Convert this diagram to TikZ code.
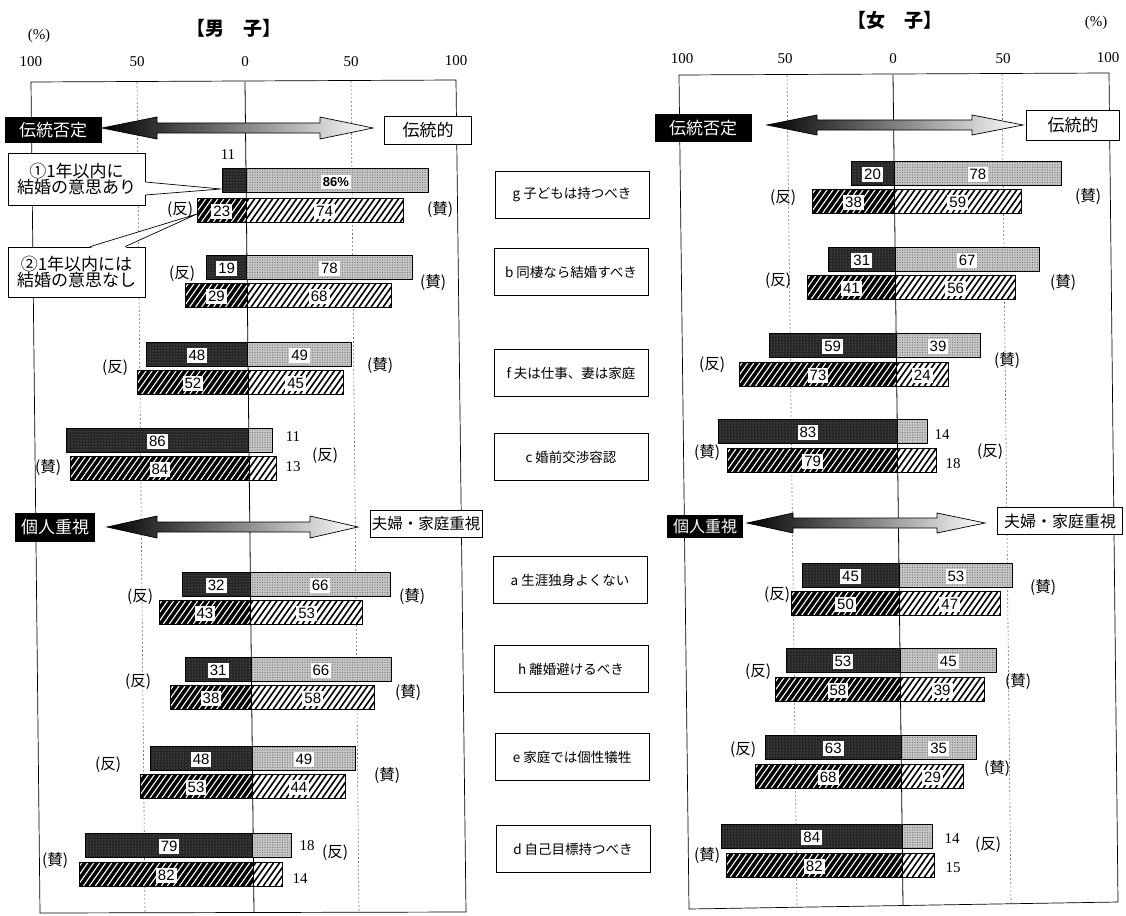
\documentclass[tikz,border=0pt]{standalone}
\usepackage{fontspec}
\setmainfont{Liberation Serif}
\newfontfamily\cjk{Noto Sans CJK JP}
\newfontfamily\numf{Liberation Sans}
\usetikzlibrary{patterns.meta}
\pgfdeclarelayer{front}
\pgfsetlayers{main,front}
\newcommand\myfs[1]{\fontsize{#1}{#1}\selectfont}
\newcommand\hatch[6]{%
  \begin{scope}
  \clip (#1,#2) rectangle (#3,#4);
  \foreach \k in {0,6,...,216}{\draw[#5,line width=#6] ({#1+\k-20},{#4}) -- ++(17,-24);}
  \end{scope}}
\newcommand\brow[8]{%
  \pgfmathsetmacro\xl{#1-#4*#2}%
  \pgfmathsetmacro\xr{#1+#5*#2}%
  \pgfmathsetmacro\yb{#3+24}%
  \pgfmathsetmacro\ym{#3+13.5}%
  \pgfmathsetmacro\xlm{(\xl+#1)/2}%
  \pgfmathsetmacro\xrm{(\xr+#1)/2}%
  \if#6B
    \fill[black] (\xl,#3) rectangle (#1,\yb);
    \hatch{\xl}{#3}{#1}{\yb}{white}{1.1pt}
    \fill[white] (#1,#3) rectangle (\xr,\yb);
    \hatch{#1}{#3}{\xr}{\yb}{black}{1.6pt}
    \draw[line width=0.8pt] (\xl,#3) rectangle (#1,\yb) (#1,#3) rectangle (\xr,\yb);
  \else
    \path[darkA] (\xl,#3) rectangle (#1,\yb);
    \path[lightA] (#1,#3) rectangle (\xr,\yb);
  \fi
  \begin{pgfonlayer}{front}
  \ifnum#7=1 \node[vl] (vl#3) at (\xlm,\ym) {#4};\fi
  \ifnum#8=1 \node[vl] (vr#3) at (\xrm,\ym) {#5};\fi
  \end{pgfonlayer}
}
\newcommand\mrow[6]{\pgfmathsetmacro\cxx{245+0.0105*(#1-82)}\brow{\cxx}{2.12}{#1}{#2}{#3}{#4}{#5}{#6}}
\newcommand\frow[6]{\pgfmathsetmacro\cxx{893+0.0121*(#1-75)}\brow{\cxx}{2.15}{#1}{#2}{#3}{#4}{#5}{#6}}
\newcommand\fatarrow[6]{%
  \shade[left color=black,right color=white,draw=black,line width=0.7pt]
  ({#2},{#1}) -- ({#3},{#1-#6}) -- ({#3},{#1-5}) -- ({#4},{#1-5}) -- ({#4},{#1-#6}) --
  ({#5},{#1}) -- ({#4},{#1+#6}) -- ({#4},{#1+5}) -- ({#3},{#1+5}) -- ({#3},{#1+#6}) -- cycle;
}
\begin{document}
\begin{tikzpicture}[x=1pt,y=-1pt,
  darkA/.style={draw=black,line width=0.8pt,preaction={fill=black!85},pattern={Dots[distance=3pt,radius=0.5pt]},pattern color=black!45},
  lightA/.style={draw=black,line width=0.8pt,preaction={fill=black!22},pattern={Dots[distance=2.5pt,radius=0.6pt]},pattern color=black!55},
  vl/.style={fill=white,inner xsep=2pt,inner ysep=2.5pt,font=\numf\myfs{15}},
  onum/.style={inner sep=0pt,font=\myfs{15}},
  ax/.style={inner sep=0pt,font=\myfs{15}},
  pn/.style={inner sep=0pt,font=\cjk\myfs{15.5}},
  cbox/.style={draw=black,line width=0.6pt,minimum width=154pt,minimum height=47pt,inner sep=0pt,font=\cjk\myfs{13.5}},
  blk/.style={fill=black,text=white,inner sep=0pt,font=\cjk\myfs{17}},
  wht/.style={draw=black,fill=white,line width=0.7pt,inner sep=0pt,font=\cjk\myfs{17}},
  grid/.style={black!55,line width=0.6pt,dash pattern=on 2pt off 2pt},
  frame/.style={black,line width=0.7pt}
]
\useasboundingbox (0,0) rectangle (1126,915);
\fill[white] (0,0) rectangle (1126,915);

% ===== titles and axes =====
\node[inner sep=0pt,font=\cjk\bfseries\myfs{19}] (tm) at (234,28) {【男　子】};
\node[inner sep=0pt,font=\cjk\bfseries\myfs{19}] (tf) at (895,20) {【女　子】};
\node[ax] (pm) at (39,36) {(\%)};
\node[ax] (pf) at (1096,23) {(\%)};
\node[ax] (m1) at (31,62) {100};
\node[ax] (m2) at (137,62) {50};
\node[ax] (m3) at (245,62) {0};
\node[ax] (m4) at (351,62) {50};
\node[ax] (m5) at (456,61) {100};
\node[ax] (f1) at (682,59) {100};
\node[ax] (f2) at (785,59) {50};
\node[ax] (f3) at (893,59) {0};
\node[ax] (f4) at (1003,59) {50};
\node[ax] (f5) at (1108,58) {100};

% frames and grid
\draw[frame] (31,82) -- (456,80) -- (466,912) -- (40,913) -- cycle;
\draw[frame] (679,75) -- (1109,73) -- (1118,902) -- (689,909) -- cycle;
\draw[grid] (137,82) -- (145,912);
\draw[grid] (351,81) -- (359,912);
\draw[grid] (787,75) -- (797,907);
\draw[grid] (1002,74) -- (1011,904);
\draw[line width=0.8pt] (245,82) -- (254,912);
\draw[line width=0.8pt] (893,75) -- (903,905);

% ===== big arrows =====
\fatarrow{128}{102}{157}{320}{373}{11}
\fatarrow{527}{107}{157}{310}{358}{11}
\fatarrow{125}{767}{817}{972}{1023}{10}
\fatarrow{523}{747}{793}{937}{985}{10}
\node[blk,minimum width=97pt,minimum height=25pt] (m-neg) at (53,130) {伝統否定};
\node[wht,minimum width=87pt,minimum height=28pt] (m-tra) at (428,130) {伝統的};
\node[blk,minimum width=80pt,minimum height=29pt] (m-ind) at (55,527) {個人重視};
\node[wht,minimum width=112pt,minimum height=27pt,font=\cjk\myfs{15.5}] (m-fam) at (426,524) {夫婦・家庭重視};
\node[blk,minimum width=97pt,minimum height=28pt] (f-neg) at (703,128) {伝統否定};
\node[wht,minimum width=93pt,minimum height=30pt] (f-tra) at (1073,125) {伝統的};
\node[blk,minimum width=76pt,minimum height=23pt,font=\cjk\myfs{16}] (f-ind) at (705,526) {個人重視};
\node[wht,minimum width=125pt,minimum height=27pt,font=\cjk\myfs{16}] (f-fam) at (1060,521) {夫婦・家庭重視};

% ===== male bars =====
\mrow{168}{11}{86}{A}{0}{0}
\node[vl,font=\numf\bfseries\myfs{13}] (m86) at (336,182) {86\%};
\node[onum] (m11a) at (228,155) {11};
\mrow{198}{23}{74}{B}{1}{1}
\mrow{255}{19}{78}{A}{1}{1}
\mrow{283}{29}{68}{B}{1}{1}
\mrow{342}{48}{49}{A}{1}{1}
\mrow{370}{52}{45}{B}{1}{1}
\mrow{428}{86}{11}{A}{1}{0}
\mrow{456}{84}{13}{B}{1}{0}
\mrow{572}{32}{66}{A}{1}{1}
\mrow{600}{43}{53}{B}{1}{1}
\mrow{657}{31}{66}{A}{1}{1}
\mrow{685}{38}{58}{B}{1}{1}
\mrow{746}{48}{49}{A}{1}{1}
\mrow{774}{53}{44}{B}{1}{1}
\mrow{833}{79}{18}{A}{1}{0}
\mrow{862}{82}{14}{B}{1}{0}
\node[onum] (mo1) at (293,437) {11};
\node[onum] (mo2) at (293,467) {13};
\node[onum] (mo3) at (307,846) {18};
\node[onum] (mo4) at (300,879) {14};

% ===== female bars =====
\frow{161}{20}{78}{A}{1}{1}
\frow{189}{38}{59}{B}{1}{1}
\frow{247}{31}{67}{A}{1}{1}
\frow{275}{41}{56}{B}{1}{1}
\frow{333}{59}{39}{A}{1}{1}
\frow{362}{73}{24}{B}{1}{1}
\frow{419}{83}{14}{A}{1}{0}
\frow{448}{79}{18}{B}{1}{0}
\frow{563}{45}{53}{A}{1}{1}
\frow{591}{50}{47}{B}{1}{1}
\frow{648}{53}{45}{A}{1}{1}
\frow{677}{58}{39}{B}{1}{1}
\frow{735}{63}{35}{A}{1}{1}
\frow{764}{68}{29}{B}{1}{1}
\frow{824}{84}{14}{A}{1}{0}
\frow{853}{82}{15}{B}{1}{0}
\node[onum] (fo1) at (942,435) {14};
\node[onum] (fo2) at (953,464) {18};
\node[onum] (fo3) at (952,839) {14};
\node[onum] (fo4) at (953,868) {15};

% ===== (反) (賛) male =====
\node[pn] at (180,210) {(反)};  \node[pn] at (440,210) {(賛)};
\node[pn] at (182,274) {(反)};  \node[pn] at (433,283) {(賛)};
\node[pn] at (115,368) {(反)};  \node[pn] at (380,366) {(賛)};
\node[pn] at (48,468) {(賛)};   \node[pn] at (325,456) {(反)};
\node[pn] at (140,597) {(反)};  \node[pn] at (412,597) {(賛)};
\node[pn] at (138,682) {(反)};  \node[pn] at (408,693) {(賛)};
\node[pn] at (108,765) {(反)};  \node[pn] at (387,775) {(賛)};
\node[pn] at (55,860) {(賛)};   \node[pn] at (335,853) {(反)};
% female
\node[pn] at (783,198) {(反)};  \node[pn] at (1088,197) {(賛)};
\node[pn] at (778,281) {(反)};  \node[pn] at (1063,283) {(賛)};
\node[pn] at (712,365) {(反)};  \node[pn] at (1007,361) {(賛)};
\node[pn] at (707,453) {(賛)};  \node[pn] at (990,452) {(反)};
\node[pn] at (777,595) {(反)};  \node[pn] at (1043,588) {(賛)};
\node[pn] at (758,672) {(反)};  \node[pn] at (1018,682) {(賛)};
\node[pn] at (743,750) {(反)};  \node[pn] at (997,768) {(賛)};
\node[pn] at (707,855) {(賛)};  \node[pn] at (988,845) {(反)};

% ===== centre item boxes =====
\node[cbox] (cg) at (572,195) {g 子どもは持つべき};
\node[cbox] (cb) at (571,272) {b 同棲なら結婚すべき};
\node[cbox] (cf) at (571,373) {f 夫は仕事、妻は家庭};
\node[cbox] (cc) at (571,457) {c 婚前交渉容認};
\node[cbox] (ca) at (570,580) {a 生涯独身よくない};
\node[cbox] (ch) at (571,669) {h 離婚避けるべき};
\node[cbox] (ce) at (572,757) {e 家庭では個性犠牲};
\node[cbox] (cd) at (573,849) {d 自己目標持つべき};

% ===== callouts =====
\node[draw=black,fill=white,line width=0.7pt,minimum width=137pt,minimum height=52pt,inner sep=0pt,align=center,font=\cjk\myfs{17}] (k1) at (76.5,179) {①1年以内に\\[-1pt]結婚の意思あり};
\fill[white] (144,182) -- (221,189) -- (144,195) -- cycle;
\draw[line width=0.7pt] (k1.east |- 0,182) -- (221,189) -- (k1.east |- 0,195);
\node[draw=black,fill=white,line width=0.7pt,minimum width=137pt,minimum height=50pt,inner sep=0pt,align=center,font=\cjk\myfs{17}] (k2) at (76.5,272) {②1年以内には\\[-1pt]結婚の意思なし};
\fill[white] (90,248) -- (197,214) -- (125,248) -- cycle;
\draw[line width=0.7pt] (k2.north -| 90,0) -- (197,214) -- (k2.north -| 125,0);
\end{tikzpicture}
\end{document}
